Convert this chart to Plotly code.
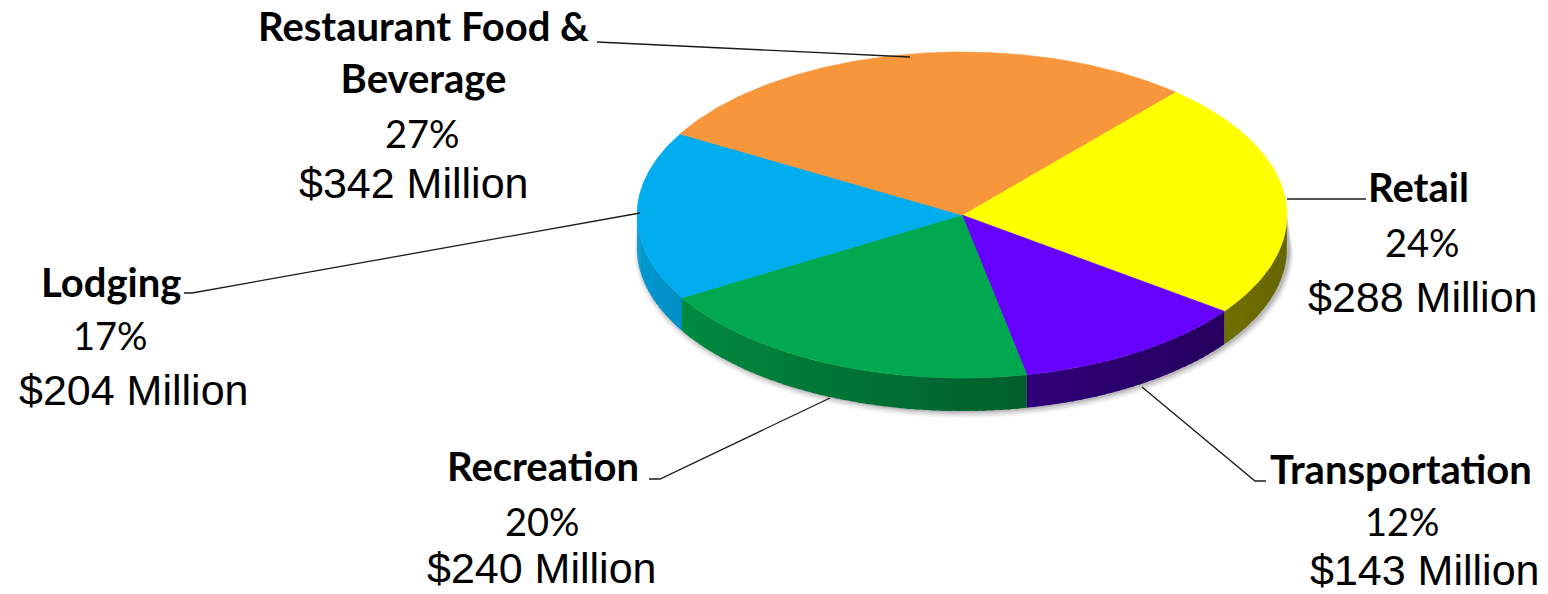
import numpy as np
import plotly.graph_objects as go

# Spending by category (clockwise from the top-right)
categories = ["Retail", "Transportation", "Recreation", "Lodging", "Restaurant Food & Beverage"]
name_lines = ["Retail", "Transportation", "Recreation", "Lodging", "Restaurant Food &<br>Beverage"]
values_musd = [288, 143, 240, 204, 342]
percent_labels = ["24%", "12%", "20%", "17%", "27%"]

top_colors = ["#FFFF00", "#6600FF", "#00A94F", "#00AEEF", "#F7963A"]
side_tone = [1.0, 0.85, 1.0, 1.0, 1.0]

# Pie geometry in page pixels (y grows downward)
CX, CY, RX, RY, DEPTH = 962.0, 215.0, 325.0, 163.0, 33.0
START_DEG = 49.0

# Label layout: (x, y) centres of the name, percent and amount lines
label_pos = {
    "Retail": [(1418, 187), (1422, 242), (1422, 297)],
    "Transportation": [(1401, 469), (1402, 521), (1424, 570)],
    "Recreation": [(543, 466), (542, 521), (541, 568)],
    "Lodging": [(111, 282), (110, 335), (133, 390)],
    "Restaurant Food & Beverage": [(423, 52), (422, 133), (413, 183)],
}
leader_paths = {
    "Retail": "M 1287 199 L 1366 199",
    "Transportation": "M 1142 387 L 1255 481 L 1266 481",
    "Recreation": "M 830 398 L 660 479 L 649 479",
    "Lodging": "M 640 213 L 192 293 L 184 293",
    "Restaurant Food & Beverage": "M 910 57 L 597 42",
}


def hex_rgb(h):
    h = h.lstrip("#")
    return np.array([int(h[i:i + 2], 16) for i in (0, 2, 4)], dtype=float)


def ellipse_pt(t_deg, dy=0.0):
    t = np.radians(t_deg)
    return CX + RX * np.cos(t), CY - RY * np.sin(t) + dy


fig = go.Figure()

# Soft drop shadow around the lower rim only
for k, alpha in [(8, 0.04), (6, 0.06), (4, 0.08), (2, 0.12)]:
    tu = np.linspace(0, 180, 120)
    tl = np.linspace(180, 360, 120)
    rx, ry = RX + k * 0.6, RY + k * 0.4
    xs = list(CX + RX * np.cos(np.radians(tu))) + list(CX + 2 + rx * np.cos(np.radians(tl)))
    ys = list(CY - RY * np.sin(np.radians(tu)) + 2) + list(CY - ry * np.sin(np.radians(tl)) + DEPTH + k * 0.5)
    fig.add_trace(go.Scatter(x=xs, y=ys, fill="toself", mode="lines",
                             line=dict(width=0), fillcolor=f"rgba(0,0,0,{alpha})",
                             hoverinfo="skip"))

values = np.array(values_musd, dtype=float)
fractions = values / values.sum()
bounds = START_DEG - 360.0 * np.concatenate([[0.0], np.cumsum(fractions)])

# Side wall (only the front half, angles between -180 and 0), shaded left to right
for i, col in enumerate(top_colors):
    a_end, a_start = bounds[i + 1], bounds[i]
    lo, hi = max(a_end, -180.0), min(a_start, 0.0)
    if hi <= lo:
        continue
    base = hex_rgb(col)
    n = max(2, int(np.ceil((hi - lo) / 1.5)))
    edges = np.linspace(hi, lo, n + 1)
    for j in range(n):
        t0 = edges[j]
        t1 = max(edges[j + 1] - 0.5, lo)
        t = np.linspace(t0, t1, 4)
        x_top, y_top = ellipse_pt(t)
        x_bot, y_bot = ellipse_pt(t[::-1], DEPTH)
        xm = float(np.mean(x_top))
        s = np.clip((xm - (CX - RX)) / (2 * RX), 0, 1) ** 0.8
        f = (0.88 - 0.48 * s) * side_tone[i]
        c = np.clip(base * f, 0, 255).astype(int)
        rgb = f"rgb({c[0]},{c[1]},{c[2]})"
        fig.add_trace(go.Scatter(x=list(x_top) + list(x_bot), y=list(y_top) + list(y_bot),
                                 fill="toself", mode="lines", line=dict(width=0),
                                 fillcolor=rgb, hoverinfo="skip"))

# Top faces
for i, col in enumerate(top_colors):
    t = np.linspace(bounds[i], bounds[i + 1], 120)
    xa, ya = ellipse_pt(t)
    xs = [CX] + list(xa) + [CX]
    ys = [CY] + list(ya) + [CY]
    fig.add_trace(go.Scatter(x=xs, y=ys, fill="toself", mode="lines",
                             line=dict(width=0.6, color=col), fillcolor=col,
                             hoverinfo="skip", name=categories[i]))

# Leader lines
shapes = []
for cat in categories:
    shapes.append(dict(type="path", path=leader_paths[cat], xref="x", yref="y",
                       line=dict(color="#1a1a1a", width=1.3)))

# Labels
annotations = []
for i, cat in enumerate(categories):
    (nx, ny), (px, py), (vx, vy) = label_pos[cat]
    annotations.append(dict(x=nx, y=ny, xref="x", yref="y", showarrow=False,
                            text=f"<b>{name_lines[i]}</b>", xanchor="center", yanchor="middle",
                            font=dict(family="Lato", size=40, color="#000000")))
    annotations.append(dict(x=px, y=py, xref="x", yref="y", showarrow=False,
                            text=percent_labels[i], xanchor="center", yanchor="middle",
                            font=dict(family="Lato", size=38, color="#000000")))
    annotations.append(dict(x=vx, y=vy, xref="x", yref="y", showarrow=False,
                            text=f"${values_musd[i]} Million", xanchor="center", yanchor="middle",
                            font=dict(family="Liberation Sans", size=43, color="#000000")))

fig.update_layout(
    width=1548, height=594,
    margin=dict(l=0, r=0, t=0, b=0),
    paper_bgcolor="white", plot_bgcolor="white",
    showlegend=False,
    xaxis=dict(range=[0, 1548], visible=False, fixedrange=True),
    yaxis=dict(range=[594, 0], visible=False, fixedrange=True),
    shapes=shapes,
    annotations=annotations,
)

fig.write_html("out.html")
